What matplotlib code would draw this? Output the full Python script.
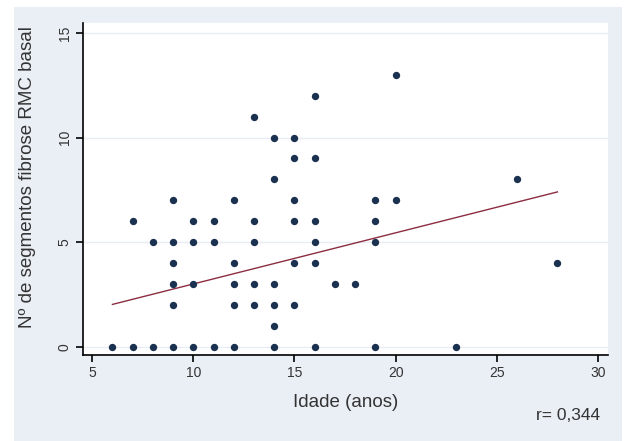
import matplotlib.pyplot as plt
import numpy as np
from matplotlib.patches import Rectangle

plt.rcParams["font.family"] = ["Liberation Sans", "DejaVu Sans"]

# age (years) and number of fibrosis segments, one entry per patient
idade = [6, 7, 7, 8, 8,
         9, 9, 9, 9, 9, 9,
         10, 10, 10, 10,
         11, 11, 11,
         12, 12, 12, 12, 12,
         13, 13, 13, 13, 13,
         14, 14, 14, 14, 14, 14,
         15, 15, 15, 15, 15, 15,
         16, 16, 16, 16, 16, 16,
         17, 18,
         19, 19, 19, 19,
         20, 20,
         23, 26, 28]
segmentos = [0, 0, 6, 5, 0,
             7, 5, 4, 3, 2, 0,
             6, 5, 3, 0,
             6, 5, 0,
             7, 4, 3, 2, 0,
             11, 6, 5, 3, 2,
             10, 8, 3, 2, 1, 0,
             10, 9, 7, 6, 4, 2,
             12, 9, 6, 5, 4, 0,
             3, 3,
             7, 6, 5, 0,
             13, 7,
             0, 8, 4]

# fitted line (overlapping patients are hidden in the scatter)
fit_x = [6, 28]
fit_y = [2.02, 7.40]

x_ticks = [5, 10, 15, 20, 25, 30]
y_ticks = [0, 5, 10, 15]
r_label = "r= 0,344"

fig = plt.figure(figsize=(6.25, 4.41), dpi=100)
fig.patch.set_facecolor("white")
# light graph-region panel behind the plot
fig.patches.append(Rectangle((14 / 625, 0), (622 - 14) / 625, (441 - 7) / 441,
                             transform=fig.transFigure, facecolor="#eaeff6",
                             edgecolor="none", zorder=-10))

ax = fig.add_axes([82.7 / 625, 86 / 441, (608 - 82.7) / 625, (355 - 23) / 441])
ax.set_facecolor("white")

ax.scatter(idade, segmentos, s=28, color="#1b3150", marker="o", zorder=3,
           linewidths=0)
ax.plot(fit_x, fit_y, color="#8c2d40", lw=1.0, zorder=2)

ax.set_xlim(4.53, 30.5)
ax.set_ylim(-0.4, 15.48)
ax.set_xticks(x_ticks)
ax.set_yticks(y_ticks)
ax.set_yticklabels([str(v) for v in y_ticks], rotation=90, va="center")
ax.tick_params(axis="both", direction="out", length=5, width=1.2,
               labelsize=10, colors="black", pad=3)
for tl in ax.get_xticklabels() + ax.get_yticklabels():
    tl.set_color("#333333")

ax.grid(axis="y", color="#e8edf3", lw=1.0)
ax.set_axisbelow(True)
for side in ("top", "right"):
    ax.spines[side].set_visible(False)
for side in ("left", "bottom"):
    ax.spines[side].set_linewidth(1.2)

ax.set_xlabel("Idade (anos)", fontsize=13.5, color="#333333", labelpad=10)
ax.set_ylabel("Nº de segmentos fibrose RMC basal", fontsize=13.5,
              color="#333333")
ax.yaxis.set_label_coords(-0.089, 0.535)

fig.text(600 / 625, 1 - 415 / 441, r_label, ha="right", va="center",
         fontsize=12.5, color="#333333")

fig.savefig("out.png", dpi=100)
